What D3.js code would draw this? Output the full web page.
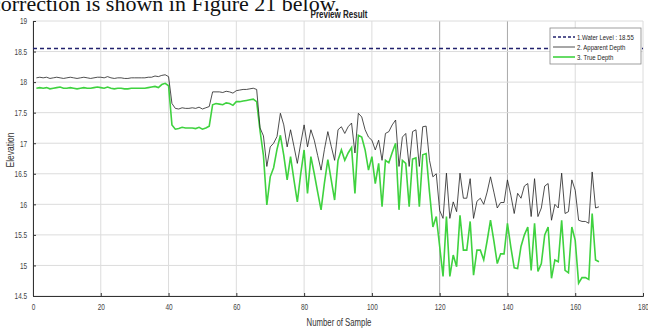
<!DOCTYPE html>
<html>
<head>
<meta charset="utf-8">
<script src="https://cdn.jsdelivr.net/npm/d3@7"></script>
<style>
  body { margin: 0; background: #fff; }
  svg { display: block; }
  text { font-family: 'Liberation Sans', Arial, sans-serif; }
</style>
</head>
<body>
<div id="chart-area"></div>
<script>
// values, sample 1..167
const apparentDepth = [
  18.07, 18.08, 18.07, 18.08, 18.06, 18.07, 18.08, 18.07, 18.06, 18.07,
  18.08, 18.07, 18.06, 18.07, 18.08, 18.07, 18.06, 18.07, 18.08, 18.08,
  18.07, 18.09, 18.07, 18.06, 18.07, 18.07, 18.06, 18.06, 18.07, 18.07,
  18.07, 18.07, 18.07, 18.08, 18.08, 18.10, 18.09, 18.11, 18.12, 18.09,
  17.65, 17.57, 17.56, 17.58, 17.57, 17.57, 17.58, 17.57, 17.59, 17.56,
  17.58, 17.60, 17.84, 17.84, 17.84, 17.83, 17.85, 17.84, 17.82, 17.86,
  17.87, 17.88, 17.88, 17.89, 17.90, 17.88, 17.25, 17.12, 16.62, 16.94,
  17.00, 17.11, 17.49, 17.30, 16.94, 17.22, 16.95, 16.67, 17.00, 17.30,
  16.94, 17.22, 17.05, 16.80, 16.56, 16.90, 17.19, 16.95, 16.72, 17.22,
  17.27, 17.16, 17.27, 17.33, 16.84, 17.49, 17.43, 17.22, 17.10, 17.05,
  16.89, 17.05, 16.72, 17.16, 17.19, 17.30, 17.38, 16.62, 17.10, 17.16,
  16.62, 17.19, 17.22, 16.62, 17.27, 17.28, 16.72, 16.45, 16.50, 15.90,
  15.77, 16.51, 15.77, 16.04, 15.88, 16.51, 16.10, 16.10, 16.42, 15.77,
  16.05, 16.10, 16.00, 16.20, 16.45, 16.20, 15.94, 16.03, 16.03, 16.40,
  16.15, 15.85, 16.18, 16.10, 16.30, 16.34, 15.80, 16.42, 15.80, 15.94,
  16.30, 16.34, 15.74, 16.00, 15.94, 16.51, 15.85, 15.88, 16.40, 16.23,
  15.74, 15.72, 15.72, 15.69, 16.53, 15.94, 15.96
];
const trueDepth = [
  17.90, 17.91, 17.90, 17.91, 17.89, 17.90, 17.91, 17.92, 17.90, 17.90,
  17.91, 17.90, 17.89, 17.90, 17.91, 17.90, 17.90, 17.91, 17.92, 17.91,
  17.90, 17.92, 17.90, 17.89, 17.90, 17.90, 17.89, 17.89, 17.90, 17.90,
  17.90, 17.90, 17.90, 17.91, 17.92, 17.93, 17.91, 17.96, 17.98, 17.94,
  17.30, 17.23, 17.24, 17.26, 17.25, 17.25, 17.25, 17.24, 17.26, 17.23,
  17.25, 17.28, 17.63, 17.65, 17.64, 17.63, 17.66, 17.65, 17.62, 17.68,
  17.68, 17.69, 17.70, 17.71, 17.72, 17.68, 17.20, 16.80, 15.99, 16.45,
  16.60, 16.90, 17.13, 16.80, 16.40, 16.78, 16.40, 16.04, 16.50, 16.89,
  16.18, 16.78, 16.50, 16.20, 15.91, 16.35, 16.73, 16.40, 16.07, 16.72,
  16.89, 16.72, 16.84, 16.93, 16.18, 17.13, 17.10, 16.89, 16.56, 16.78,
  16.34, 16.67, 15.96, 16.72, 16.68, 16.85, 17.00, 15.91, 16.72, 16.67,
  15.96, 16.74, 16.76, 15.96, 16.81, 16.83, 16.20, 15.63, 15.80, 15.31,
  14.82, 15.80, 14.82, 15.17, 14.98, 15.82, 15.25, 15.25, 15.72, 14.84,
  15.25, 15.25, 15.09, 15.40, 15.74, 15.40, 15.03, 15.19, 15.19, 15.69,
  15.30, 14.96, 14.95, 15.31, 15.50, 15.63, 14.92, 15.69, 14.90, 15.03,
  15.50, 15.63, 14.79, 15.09, 15.06, 15.74, 14.92, 14.88, 15.63, 15.41,
  14.71, 14.80, 14.80, 14.77, 15.85, 15.09, 15.06
];
const waterLevel = 18.55;

const xTicks = [0, 20, 40, 60, 80, 100, 120, 140, 160, 180];
const yTicks = [14.5, 15, 15.5, 16, 16.5, 17, 17.5, 18, 18.5, 19];
const legendLabels = ["1.Water Level : 18.55", "2. Apparent Depth", "3. True Depth"];

const width = 648, height = 330;
const margin = {top: 21, right: 5, bottom: 34, left: 33};

const svg = d3.select("#chart-area").append("svg")
    .attr("width", width)
    .attr("height", height);

// cut-off line of the document text above the figure
svg.append("text")
    .attr("x", -9)
    .attr("y", 11)
    .attr("font-family", "'Liberation Serif', 'DejaVu Serif', serif")
    .style("font-family", "'Liberation Serif', 'DejaVu Serif', serif")
    .attr("font-size", 22)
    .attr("fill", "#111")
    .text("correction is shown in Figure 21 below.");

const x = d3.scaleLinear().domain([0, 180]).range([margin.left, width - margin.right]);
const y = d3.scaleLinear().domain([14.5, 19]).range([height - margin.bottom, margin.top]);

// grid
svg.append("g").selectAll("line").data(xTicks).enter().append("line")
    .attr("x1", d => x(d)).attr("x2", d => x(d))
    .attr("y1", y(19)).attr("y2", y(14.5))
    .attr("stroke", d => (d === 120 || d === 140) ? "#a8a8a8" : "#dcdcdc")
    .attr("stroke-width", 1);
svg.append("g").selectAll("line").data(yTicks).enter().append("line")
    .attr("x1", x(0)).attr("x2", x(180))
    .attr("y1", d => y(d)).attr("y2", d => y(d))
    .attr("stroke", "#dcdcdc")
    .attr("stroke-width", 1);

// axes (labels squeezed sideways to look like the narrow font)
const xAxis = svg.append("g")
    .attr("transform", `translate(0,${y(14.5)})`)
    .call(d3.axisBottom(x).tickValues(xTicks).tickSize(-3).tickPadding(8).tickFormat(d3.format("d")));
const yAxis = svg.append("g")
    .attr("transform", `translate(${x(0)},0)`)
    .call(d3.axisLeft(y).tickValues(yTicks).tickSize(-3).tickPadding(6).tickFormat(d => d));
[xAxis, yAxis].forEach(a => {
  a.select(".domain").attr("stroke", "#333");
  a.selectAll(".tick line").attr("stroke", "#333");
  a.selectAll(".tick text")
      .attr("font-size", 9)
      .attr("fill", "#444");
});
xAxis.selectAll(".tick text").attr("transform", "scale(0.72,1)");
yAxis.selectAll(".tick text").attr("transform", "translate(-1.5,0) scale(0.72,1)");

// water level
svg.append("line")
    .attr("x1", x(0)).attr("x2", x(180))
    .attr("y1", y(waterLevel)).attr("y2", y(waterLevel))
    .attr("stroke", "#22226e")
    .attr("stroke-width", 1.6)
    .attr("stroke-dasharray", "4,3");

const line = d3.line()
    .x((d, i) => x(i + 1))
    .y(d => y(d));

svg.append("path")
    .datum(trueDepth)
    .attr("fill", "none")
    .attr("stroke", "#3fd23f")
    .attr("stroke-width", 1.6)
    .attr("d", line);

svg.append("path")
    .datum(apparentDepth)
    .attr("fill", "none")
    .attr("stroke", "#222")
    .attr("stroke-width", 0.8)
    .attr("d", line);

// title and axis labels
svg.append("text")
    .attr("transform", "translate(339,18) scale(0.8,1)")
    .attr("text-anchor", "middle")
    .attr("font-weight", "bold")
    .attr("font-size", 10)
    .attr("fill", "#222")
    .text("Preview Result");

svg.append("text")
    .attr("transform", "translate(339,326) scale(0.78,1)")
    .attr("text-anchor", "middle")
    .attr("font-size", 10)
    .attr("fill", "#333")
    .text("Number of Sample");

svg.append("text")
    .attr("transform", "translate(14,150) rotate(-90) scale(0.85,1)")
    .attr("text-anchor", "middle")
    .attr("font-size", 10)
    .attr("fill", "#333")
    .text("Elevation");

// legend
const legend = svg.append("g").attr("transform", "translate(550,28)");
legend.append("rect")
    .attr("width", 91).attr("height", 36)
    .attr("fill", "#fff")
    .attr("stroke", "#888")
    .attr("stroke-width", 0.8);
const legendStyles = [
  {stroke: "#22226e", width: 1.4, dash: "3,2"},
  {stroke: "#222", width: 0.8, dash: null},
  {stroke: "#3fd23f", width: 1.6, dash: null}
];
const items = legend.selectAll("g.item").data(legendLabels).enter().append("g")
    .attr("class", "item")
    .attr("transform", (d, i) => `translate(0,${9 + i * 10})`);
items.append("line")
    .attr("x1", 3).attr("x2", 25)
    .attr("stroke", (d, i) => legendStyles[i].stroke)
    .attr("stroke-width", (d, i) => legendStyles[i].width)
    .attr("stroke-dasharray", (d, i) => legendStyles[i].dash);
items.append("text")
    .attr("transform", "translate(27,2.5) scale(0.75,1)")
    .attr("font-size", 8)
    .attr("fill", "#222")
    .text(d => d);
</script>
</body>
</html>
